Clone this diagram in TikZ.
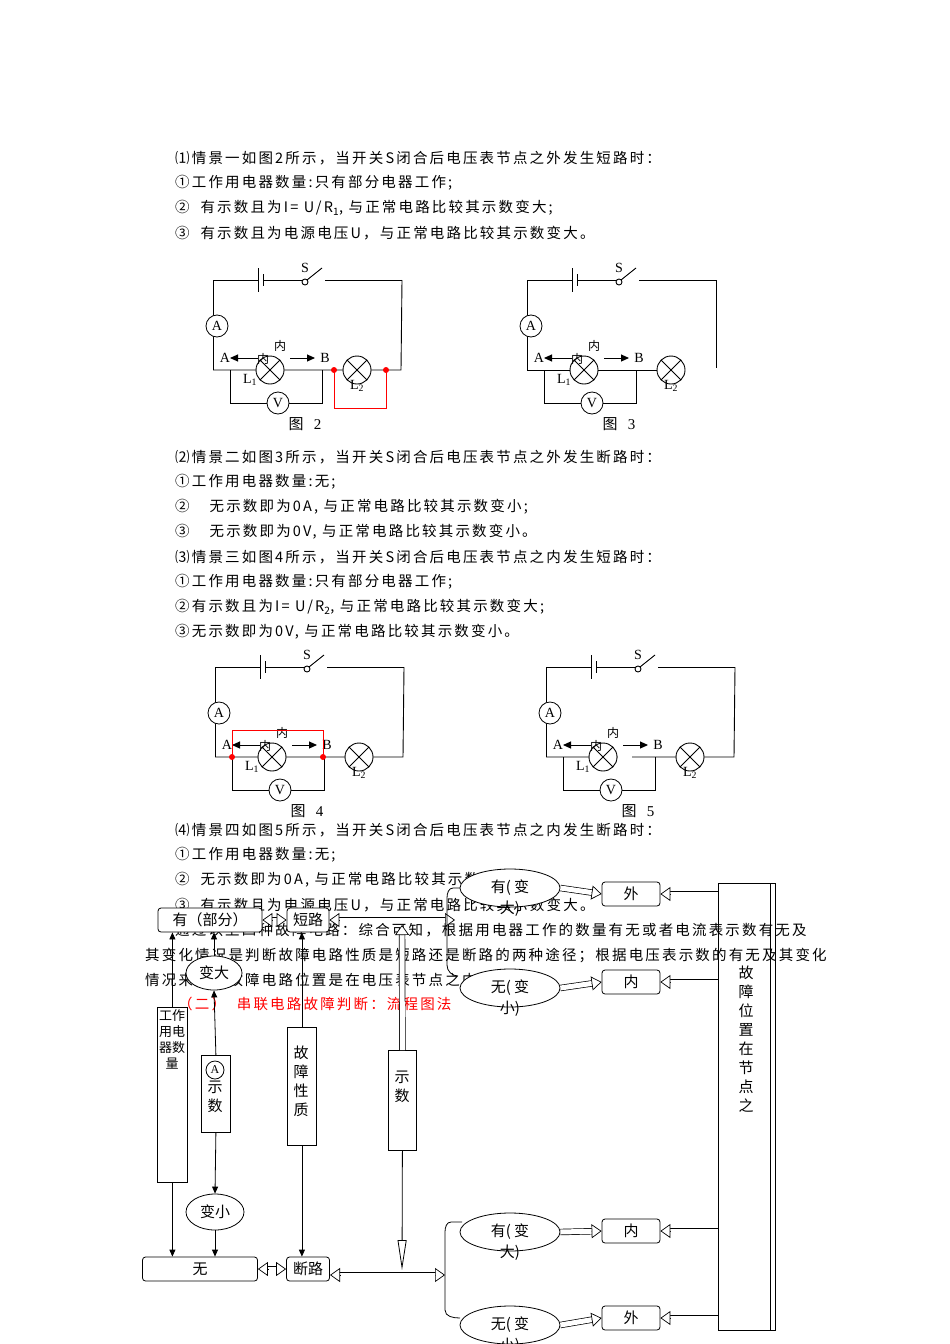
\documentclass[tikz,border=0pt]{standalone}
\usepackage{fontspec}
\setmainfont[LetterSpace=15]{Noto Sans CJK SC}
\newfontfamily\plain{Noto Sans CJK SC}
\newfontfamily\ser{Liberation Serif}
\usetikzlibrary{arrows.meta,shapes.geometric,calc}
\tikzset{
 txt/.style={anchor=west,inner sep=0pt,font=\fontsize{14.5}{14.5}\selectfont},
 wire/.style={line width=0.9pt},
 meter/.style={circle,draw,line width=0.8pt,minimum size=22pt,inner sep=0pt,font=\ser\fontsize{14}{14}\selectfont,fill=white},
 lbl/.style={inner sep=0pt,font=\ser\fontsize{14}{14}\selectfont},
 fbox/.style={draw,rounded corners=3pt,inner sep=0pt,font=\plain\fontsize{15}{15}\selectfont,line width=0.8pt},
 vbox/.style={draw,inner sep=0pt,line width=0.8pt,anchor=north west},
 ell/.style={draw,ellipse,line width=0.8pt,inner sep=0pt},
 dsh/.style={double,double distance=5pt,line width=0.7pt},
 otip/.style={line width=0.7pt,-{Triangle[open,fill=white,length=10pt,width=14pt]}},
 sarr/.style={line width=0.8pt,-{Triangle[length=7pt,width=6pt]}},
 vt/.style={inner sep=0pt,font=\plain\fontsize{15}{19}\selectfont,align=center,anchor=north},
}
\newcommand{\dar}[2]{\draw[dsh,shorten >=9pt] (#1) -- (#2); \draw[otip] ($(#2)!10pt!(#1)$) -- (#2);}
\newcommand{\ddar}[2]{\draw[dsh,shorten >=9pt,shorten <=9pt] (#1) -- (#2); \draw[otip] ($(#2)!10pt!(#1)$) -- (#2); \draw[otip] ($(#1)!10pt!(#2)$) -- (#1);}
\newcommand{\lamp}[2]{\draw[wire,fill=white] (#1,#2) circle (14);
 \draw[wire] (#1-10,#2-10) -- (#1+10,#2+10) (#1-10,#2+10) -- (#1+10,#2-10);}
\newcommand{\circuit}[4]{%
\begin{scope}[shift={(#1,#2)}]
 \draw[wire] (0,0) -- (45,0) (50,0) -- (90,0);
 \draw[wire] (45,-12) -- (45,12) (50,-6) -- (50,6);
 \draw[wire,fill=white] (92,2) circle (3);
 \draw[wire] (94,0) -- (109,-12);
 \node[lbl] (s#3) at (92,-12) {S};
 \draw[wire] (112,0) -- (189,0);
 \ifnum#3=3 \draw[wire] (189,0) -- (189,88); \else \draw[wire] (189,0) -- (188,90) -- (0,90);\fi
 \ifnum#3=3 \draw[wire] (0,90) -- (158,90);\fi
 \ifnum#3=5 \draw[wire,white,line width=3pt] (72,90) -- (86,90);\fi
 \draw[wire] (0,0) -- (0,90);
 \node[meter] (am#3) at (4,46) {A};
 \lamp{57}{90}\lamp{144}{90}
 \draw[wire] (17,90) -- (17,123) -- (109,123) -- (109,90);
 \node[meter] (vm#3) at (65,123) {V};
 \node[lbl] (la#3) at (12,78) {A};
 \node[lbl] (lb#3) at (112,78) {B};
 \node[inner sep=0pt,font=\plain\fontsize{12}{12}\selectfont] (n1#3) at (67,66) {内};
 \node[inner sep=0pt,font=\plain\fontsize{12}{12}\selectfont] (n2#3) at (50,79) {内};
 \draw[line width=1pt,-{Triangle[length=8pt,width=7pt]}] (45,78) -- (17,78);
 \draw[line width=1pt,-{Triangle[length=8pt,width=7pt]}] (77,78) -- (102,78);
 \node[lbl] (l1#3) at (37,100) {L\textsubscript{1}};
 \node[lbl] (l2#3) at (144,106) {L\textsubscript{2}};
 \node[inner sep=0pt,font=\plain\fontsize{15}{15}\selectfont] (fg#3) at (92,144) {图\ \ \ \ser #4};
 \ifnum#3=2
  \draw[red,line width=0.9pt] (121,90) -- (121,128) -- (173,128) -- (173,90);
  \fill[red] (121,90) circle (3) (173,90) circle (3);
 \fi
 \ifnum#3=4
  \draw[red,line width=0.9pt] (17,90) -- (17,63) -- (108,63) -- (108,90);
  \fill[red] (17,90) circle (3) (108,90) circle (3);
 \fi
\end{scope}}
\begin{document}
\begin{tikzpicture}[x=1pt,y=-1pt]
\useasboundingbox[fill=white] (0,0) rectangle (950,1344);
\node[txt] (t1) at (175,158) {⑴情景一如图2所示，当开关S闭合后电压表节点之外发生短路时：};
\node[txt] (t2) at (175,183) {①工作用电器数量:只有部分电器工作;};
\node[txt] (t3) at (175,208) {② \ 有示数且为I= U/R\textsubscript{1}, 与正常电路比较其示数变大;};
\node[txt] (t4) at (175,233) {③ \ 有示数且为电源电压U，与正常电路比较其示数变大。};
\circuit{213}{280}{2}{2}
\circuit{527}{280}{3}{3}
\node[txt] (t5) at (175,457) {⑵情景二如图3所示，当开关S闭合后电压表节点之外发生断路时：};
\node[txt] (t6) at (175,482) {①工作用电器数量:无;};
\node[txt] (t7) at (175,507) {② \quad 无示数即为0A, 与正常电路比较其示数变小;};
\node[txt] (t8) at (175,532) {③ \quad 无示数即为0V, 与正常电路比较其示数变小。};
\node[txt] (t9) at (175,557) {⑶情景三如图4所示，当开关S闭合后电压表节点之内发生短路时：};
\node[txt] (t10) at (175,582) {①工作用电器数量:只有部分电器工作;};
\node[txt] (t11) at (175,607) {②有示数且为I= U/R\textsubscript{2}, 与正常电路比较其示数变大;};
\node[txt] (t12) at (175,632) {③无示数即为0V, 与正常电路比较其示数变小。};
\circuit{215}{667}{4}{4}
\circuit{546}{667}{5}{5}
\node[txt] (t13) at (175,830) {⑷情景四如图5所示，当开关S闭合后电压表节点之内发生断路时：};
\node[txt] (t14) at (175,855) {①工作用电器数量:无;};
\node[txt] (t15) at (175,880) {② \ 无示数即为0A, 与正常电路比较其示数变小;};
\node[txt] (t16) at (175,905) {③ \ 有示数且为电源电压U，与正常电路比较其示数变大。};
\node[txt] (t17) at (175,930) {通过以上四种故障电路：综合可知，根据用电器工作的数量有无或者电流表示数有无及};
\node[txt] (t18) at (145,955) {其变化情况是判断故障电路性质是短路还是断路的两种途径；根据电压表示数的有无及其变化};
\node[txt] (t19) at (145,980) {情况来判断故障电路位置是在电压表节点之内还是之外。};
\node[txt,red] (t20) at (178,1004) {（二） \ 串联电路故障判断：流程图法};
% flowchart
\node[fbox,fill=white,minimum width=104pt,minimum height=24pt] (you) at (210,920) {有（部分）};
\node[fbox,fill=white,minimum width=42pt,minimum height=24pt] (dl) at (308,920) {短路};
\node[fbox,fill=white,minimum width=115pt,minimum height=24pt] (wu) at (200,1269) {无};
\node[fbox,fill=white,minimum width=43pt,minimum height=24pt] (dk) at (308,1269) {断路};
\ddar{you.east}{dl.west}
\ddar{wu.east}{dk.west}
\coordinate (bt) at (455,920);
\coordinate (bb) at (445,1275);
\coordinate (dkr) at (330,1275);
\ddar{dl.east}{bt}
\ddar{dkr}{bb}
% brackets
\draw[line width=0.8pt] (462,888) -- (453,888) to[out=180,in=90] (447,898) -- (447,965) to[out=-90,in=180] (458,976);
\draw[line width=0.8pt] (462,1222) -- (451,1222) to[out=180,in=90] (445,1232) -- (445,1310) to[out=-90,in=180] (460,1318);
\node[ell,fill=white,minimum width=100pt,minimum height=38pt] (e1) at (510,888) {};
\node[ell,fill=white,minimum width=100pt,minimum height=38pt] (e2) at (510,988) {};
\node[ell,fill=white,minimum width=100pt,minimum height=38pt] (e3) at (510,1232) {};
\node[ell,fill=white,minimum width=100pt,minimum height=38pt] (e4) at (510,1325) {};
\foreach \n/\a/\b in {e1/有/大,e2/无/小,e3/有/大,e4/无/小}{
 \node[inner sep=0pt,font=\plain\fontsize{15}{21}\selectfont,align=center] at ([yshift=-10pt]\n.center) {\a ( 变\\\b )};}
\node[fbox,minimum width=58pt,minimum height=24pt] (w1) at (631,894) {外};
\node[fbox,minimum width=58pt,minimum height=24pt] (n1) at (631,982) {内};
\node[fbox,minimum width=58pt,minimum height=24pt] (n2) at (631,1231) {内};
\node[fbox,minimum width=58pt,minimum height=24pt] (w2) at (631,1318) {外};
\dar{e1.east}{w1.west}
\dar{e2.east}{n1.west}
\dar{e3.east}{n2.west}
\dar{e4.east}{w2.west}
\node[draw,line width=0.8pt,minimum width=57pt,minimum height=447pt,anchor=north west,inner sep=0pt] (big) at (718,883) {};
\draw[line width=0.8pt] (770,883) -- (770,1330);
\node[vt] (bigt) at (746,966) {故\\障\\位\\置\\在\\节\\点\\之};
\dar{big.west |- w1}{w1.east}
\dar{big.west |- n1}{n1.east}
\dar{big.west |- n2}{n2.east}
\dar{big.west |- w2}{w2.east}
% verticals
\node[vbox,minimum width=30pt,minimum height=175pt] (gz) at (157,1007) {};
\node[vt,font=\plain\fontsize{13}{16}\selectfont] (gzt) at (172,1009) {工作\\用电\\器数\\量};
\draw[sarr] (gz.north) -- (gz.north |- you.south);
\draw[sarr] (gz.south) -- (gz.south |- wu.north);
\node[ell,fill=white,minimum width=56pt,minimum height=34pt,font=\plain\fontsize{15}{15}\selectfont] (bd) at (214,973) {变大};
\draw[sarr] (bd.north) -- (bd.north |- you.south);
\node[vbox,minimum width=29pt,minimum height=77pt] (sa) at (201,1055) {};
\node[meter,minimum size=18pt,font=\ser\fontsize{12}{12}\selectfont] (am) at (215,1070) {A};
\node[vt] (sat) at (215,1081) {示\\数};
\draw[sarr] (sa.north) -- (bd.south);
\node[ell,fill=white,minimum width=58pt,minimum height=36pt,font=\plain\fontsize{15}{15}\selectfont] (bx) at (215,1212) {变小};
\draw[sarr] (sa.south) -- (bx.north);
\draw[sarr] (bx.south) -- (bx.south |- wu.north);
\node[vbox,minimum width=29pt,minimum height=118pt] (gx) at (287,1027) {};
\node[vt] (gxt) at (301,1046) {故\\障\\性\\质};
\draw[sarr] (gx.north) -- (gx.north |- dl.south);
\draw[sarr] (gx.south) -- (gx.south |- dk.north);
\node[vbox,minimum width=28pt,minimum height=100pt] (sv) at (388,1050) {};
\node[vt] (svt) at (402,1071) {示\\数};
\coordinate (svu) at (402,925);
\coordinate (svd) at (402,1270);
\dar{sv.north}{svu}
\draw[line width=0.8pt,-{Triangle[open,length=30pt,width=9pt]}] (sv.south) -- (svd);
\end{tikzpicture}
\end{document}
